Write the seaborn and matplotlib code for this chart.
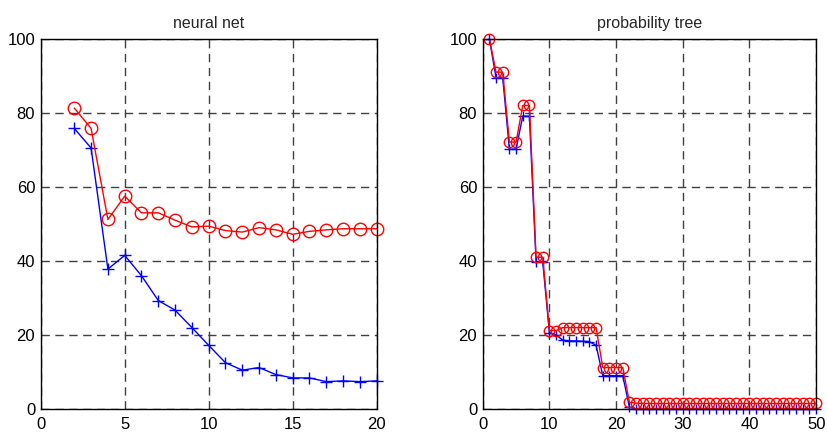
import numpy as np
import pandas as pd
import matplotlib
matplotlib.use("Agg")
import matplotlib.pyplot as plt
import seaborn as sns

# ---- data ----
nn_x = list(range(2, 21))
nn_red = [81.3, 75.8, 51.2, 57.5, 53.0, 53.0, 51.0, 49.2, 49.4, 48.2, 47.8, 49.0,
          48.4, 47.2, 48.0, 48.4, 48.7, 48.7, 48.7]
nn_blue = [75.8, 70.5, 37.8, 41.5, 36.0, 29.3, 26.7, 22.0, 17.2, 12.5, 10.5, 11.2,
           9.3, 8.4, 8.4, 7.4, 7.6, 7.4, 7.6]

pt_x = list(range(1, 51))
pt_red = [100, 91.0, 91.0, 72.1, 72.1, 82.0, 82.0, 41.0, 41.0, 21.2, 21.2,
          22.0, 22.0, 22.0, 22.0, 22.0, 22.0, 11.2, 11.2, 11.2, 11.2, 1.8, 1.6] + [1.5] * 27
pt_blue = [100, 89.5, 89.5, 70.2, 70.2, 79.1, 79.1, 39.8, 39.8, 20.6, 20.0,
           18.6, 18.4, 18.4, 18.3, 18.2, 17.2, 9.0, 9.0, 9.0, 9.0, 0.5] + [0.0] * 28

titles = ["neural net", "probability tree"]
xticks_nn = [0, 5, 10, 15, 20]
xticks_pt = [0, 10, 20, 30, 40, 50]
yticks = [0, 20, 40, 60, 80, 100]

sns.set_style("white")
plt.rcParams['font.family'] = ['Liberation Sans', 'DejaVu Sans']

fig = plt.figure(figsize=(8.27, 4.36), dpi=100)
ax1 = fig.add_axes([0.0492, 0.0619, 0.4063, 0.849])
ax2 = fig.add_axes([0.5837, 0.0619, 0.4032, 0.849])

def draw(ax, x, blue, red, xlim, xticks, title, osize, psize):
    df_b = pd.DataFrame({"x": x, "y": blue})
    df_r = pd.DataFrame({"x": x, "y": red})
    sns.lineplot(data=df_b, x="x", y="y", ax=ax, color="#0000ff", lw=1,
                 marker="+", markersize=psize, markeredgewidth=1,
                 markeredgecolor="#0000ff", clip_on=False, zorder=3)
    sns.lineplot(data=df_r, x="x", y="y", ax=ax, color="#ff0000", lw=1,
                 marker="o", markersize=osize, markerfacecolor="none",
                 markeredgewidth=1, markeredgecolor="#ff0000", clip_on=False, zorder=4)
    ax.set_xlim(*xlim)
    ax.set_ylim(0, 100)
    ax.set_xticks(xticks)
    ax.set_yticks(yticks)
    ax.set_xlabel("")
    ax.set_ylabel("")
    ax.set_title(title, fontsize=11.5, pad=8)
    ax.grid(True, color="#404040", linestyle=(0, (6, 4)), linewidth=1)
    ax.tick_params(axis="both", direction="in", length=4, width=1,
                   labelsize=12, colors="black")
    ax.tick_params(axis="x", pad=6)
    ax.tick_params(axis="y", pad=4)
    for s in ax.spines.values():
        s.set_visible(True)
        s.set_color("black")
        s.set_linewidth(1)
        s.set_zorder(5)

draw(ax1, nn_x, nn_blue, nn_red, (0, 20), xticks_nn, titles[0], 9, 8)
draw(ax2, pt_x, pt_blue, pt_red, (0, 50), xticks_pt, titles[1], 7.5, 7)

fig.savefig("out.png", dpi=100)
